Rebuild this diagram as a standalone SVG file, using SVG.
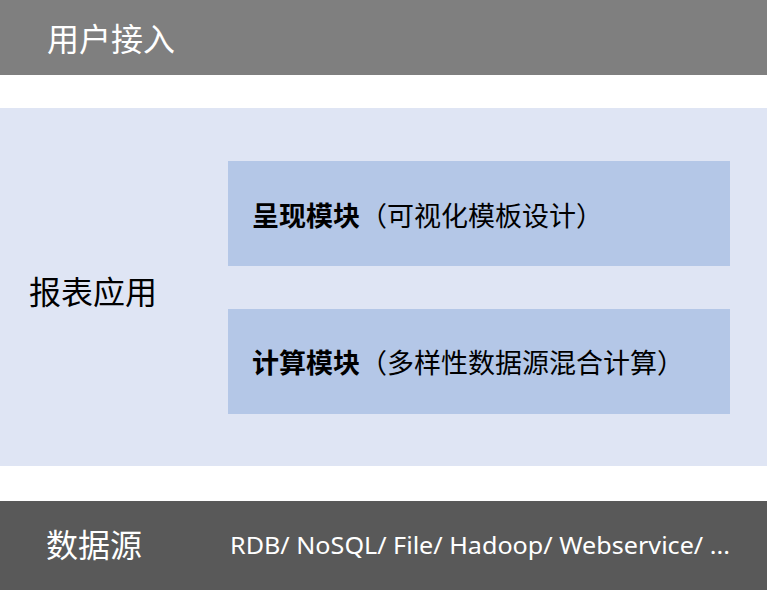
<svg xmlns="http://www.w3.org/2000/svg" width="767" height="590" viewBox="0 0 767 590">
<style>
.cjk{font-family:"Noto Sans CJK SC","Noto Sans",sans-serif;}
.title{font-size:32px;fill:#fff;}
.dark{font-size:32px;fill:#000;}
.box{fill:#b4c7e7;}
.bt{font-size:27px;fill:#000;}
.b{font-weight:bold;}
</style>
<rect width="767" height="590" fill="#fff"/>
<g id="user-access">
<rect x="0" y="0" width="767" height="75" fill="#7f7f7f"/>
<text class="cjk title" x="47" y="51">用户接入</text>
</g>
<g id="report-app">
<rect x="0" y="108" width="767" height="358" fill="#dfe5f4"/>
<text class="cjk dark" x="29" y="304">报表应用</text>
</g>
<g id="render-module">
<rect class="box" x="228" y="161" width="502" height="105"/>
<text class="cjk bt" x="252" y="226"><tspan class="b">呈现模块</tspan>（可视化模板设计）</text>
</g>
<g id="compute-module">
<rect class="box" x="228" y="309" width="502" height="105"/>
<text class="cjk bt" x="252" y="373"><tspan class="b">计算模块</tspan>（多样性数据源混合计算）</text>
</g>
<g id="data-source">
<rect x="0" y="501" width="767" height="89" fill="#595959"/>
<text class="cjk title" x="46" y="557">数据源</text>
<text x="230" y="554" font-family="'Noto Sans',sans-serif" font-size="24" fill="#fff" textLength="500" lengthAdjust="spacingAndGlyphs">RDB/ NoSQL/ File/ Hadoop/ Webservice/ ...</text>
</g>
<g id="connectors"></g>
</svg>
